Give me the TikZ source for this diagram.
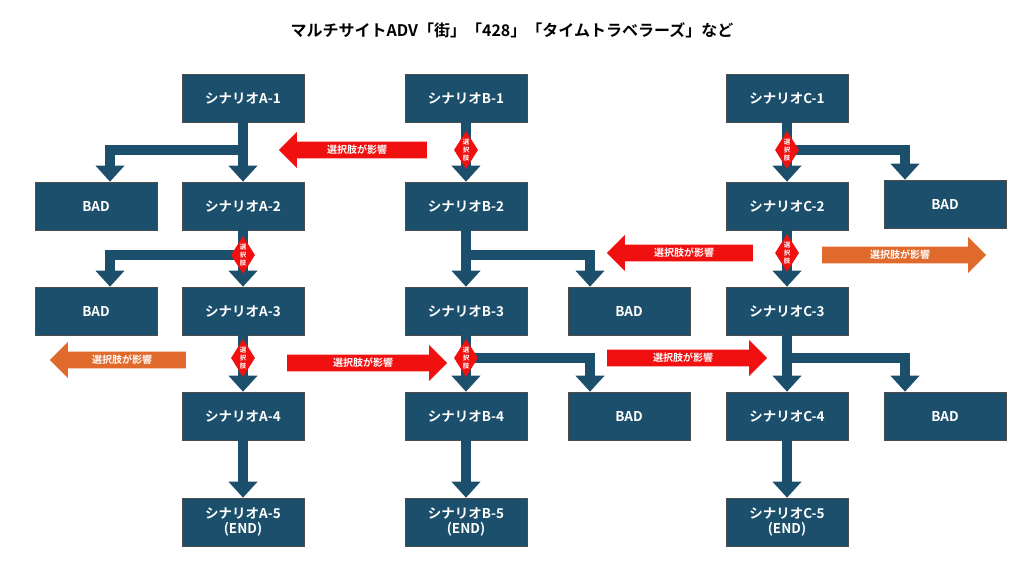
\documentclass[tikz,border=0pt]{standalone}
\usepackage{fontspec}
\setmainfont{Noto Sans CJK JP}[BoldFont={Noto Sans CJK JP Bold}]
\usetikzlibrary{arrows.meta,shapes.geometric,shapes.arrows}
\definecolor{boxc}{HTML}{1C4F6C}
\definecolor{redc}{HTML}{F01010}
\definecolor{orc}{HTML}{E06A2C}
\tikzset{
 sbox/.style={draw=black!70,line width=0.6pt,fill=boxc,text=white,font=\bfseries\fontsize{13.5}{15}\selectfont,minimum width=122pt,minimum height=48pt,inner sep=0pt,align=center},
 flow/.style={draw=boxc,line width=10pt,-{Triangle[width=28pt,length=16pt]}},
 dia/.style={diamond,fill=redc,inner sep=0pt,minimum width=24pt,minimum height=38pt},
 diatext/.style={text=white,font=\bfseries\fontsize{6.5}{8}\selectfont,align=center,inner sep=0pt},
 infl/.style={single arrow,fill=#1,text=white,font=\bfseries\fontsize{10}{11}\selectfont,inner ysep=2pt,single arrow head extend=8pt,minimum width=36pt,single arrow head indent=0pt},
}
\newcommand{\choicemark}[2]{\node[dia] (#1) at (#2) {}; \node[diatext] at (#1) {選\\択\\肢};}
\begin{document}
\begin{tikzpicture}[x=1pt,y=-1pt]
\useasboundingbox (0,0) rectangle (1024,575);
\node[font=\bfseries\fontsize{16}{18}\selectfont] (title) at (512,30) {マルチサイトADV「街」「428」「タイムトラベラーズ」など};
% boxes
\foreach \c/\x in {A/243,B/466,C/787}{
 \node[sbox] (\c1) at (\x,98) {シナリオ\c-1};
 \node[sbox] (\c2) at (\x,206) {シナリオ\c-2};
 \node[sbox] (\c3) at (\x,311) {シナリオ\c-3};
 \node[sbox] (\c4) at (\x,416) {シナリオ\c-4};
 \node[sbox] (\c5) at (\x,522) {シナリオ\c-5\\(END)};
}
\node[sbox] (badA1) at (96,206) {BAD};
\node[sbox] (badA2) at (96,311) {BAD};
\node[sbox] (badB1) at (629,311) {BAD};
\node[sbox] (badB2) at (629,416) {BAD};
\node[sbox] (badC1) at (945,204) {BAD};
\node[sbox] (badC2) at (945,416) {BAD};
% main flows
\foreach \c in {A,B,C}{
 \draw[flow] (\c1) -- (\c2);
 \draw[flow] (\c2) -- (\c3);
 \draw[flow] (\c3) -- (\c4);
 \draw[flow] (\c4) -- (\c5);
}
% branches
\coordinate (jA1) at (243,150); \coordinate (jA2) at (243,255);
\coordinate (jB2) at (466,255); \coordinate (jB3) at (466,358);
\coordinate (jC1) at (787,150); \coordinate (jC3) at (787,358);
\draw[flow] ([xshift=5pt]jA1) -| (badA1.north -| 110,0);
\draw[flow] ([xshift=5pt]jA2) -| (badA2.north -| 110,0);
\draw[flow] ([xshift=-5pt]jB2) -| (badB1.north -| 590,0);
\draw[flow] ([xshift=-5pt]jB3) -| (badB2.north -| 590,0);
\draw[flow] ([xshift=-5pt]jC1) -| (badC1.north -| 905,0);
\draw[flow] ([xshift=-5pt]jC3) -| (badC2.north -| 905,0);
% diamonds
\choicemark{dA2}{243,255}
\choicemark{dA3}{243,358}
\choicemark{dB1}{466,150}
\choicemark{dB3}{466,358}
\choicemark{dC1}{787,150}
\choicemark{dC2}{787,253}
% influence arrows
\node[infl=redc,minimum height=148pt,shape border rotate=180] (i1) at (357,150) {選択肢が影響};
\node[infl=redc,minimum height=160pt] (i2) at (363,363) {選択肢が影響};
\node[infl=redc,minimum height=146pt,shape border rotate=180] (i3) at (684,253) {選択肢が影響};
\node[infl=redc,minimum height=160pt] (i4) at (683,358) {選択肢が影響};
\node[infl=orc,minimum height=136pt,shape border rotate=180] (i5) at (122,360) {選択肢が影響};
\node[infl=orc,minimum height=164pt] (i6) at (900,255) {選択肢が影響};
\end{tikzpicture}
\end{document}
